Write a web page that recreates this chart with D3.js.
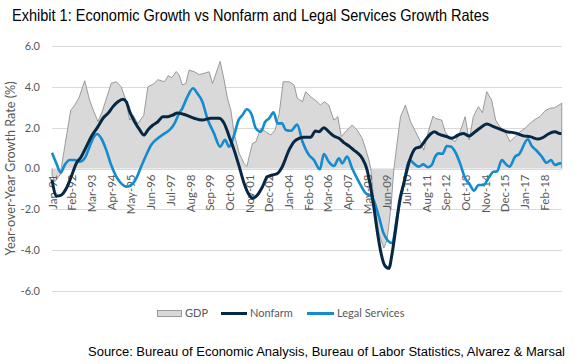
<!DOCTYPE html>
<html>
<head>
<meta charset="utf-8">
<script src="https://cdn.jsdelivr.net/npm/d3@7"></script>
<style>
  body { margin: 0; background: #fff; }
  svg { display: block; }
</style>
</head>
<body>
<div id="chart"></div>
<script>
// chart data (x = decimal year)
var tickLabels = ["Jan-91","Feb-92","Mar-93","Apr-94","May-95","Jun-96","Jul-97","Aug-98","Sep-99","Oct-00",
  "Nov-01","Dec-02","Jan-04","Feb-05","Mar-06","Apr-07","May-08","Jun-09","Jul-10","Aug-11",
  "Sep-12","Oct-13","Nov-14","Dec-15","Jan-17","Feb-18"];
var yTicks = [6, 4, 2, 0, -2, -4, -6];

var gdpYears = [1991.0,1991.15,1991.45,1991.7,1992.03,1992.25,1992.5,1992.8,1993.07,1993.3,1993.53,1993.75,1993.95,
  1994.26,1994.54,1994.81,1995.05,1995.28,1995.46,1995.73,1996.05,1996.28,1996.6,1996.83,1997.2,1997.4,1997.6,
  1997.84,1998.0,1998.18,1998.37,1998.55,1998.83,1999.1,1999.37,1999.65,1999.84,2000.26,2000.48,2000.66,2000.85,
  2001.03,2001.31,2001.58,2001.73,2001.86,2002.04,2002.22,2002.5,2002.77,2003.05,2003.29,2003.51,2003.73,2004.06,
  2004.33,2004.51,2004.79,2004.97,2005.24,2005.6,2005.78,2006.0,2006.24,2006.52,2006.74,2006.93,2007.16,2007.53,
  2007.8,2008.08,2008.26,2008.45,2008.55,2008.72,2009.0,2009.27,2009.45,2009.67,2009.82,2010.0,2010.19,2010.46,
  2010.74,2011.02,2011.29,2011.47,2011.75,2011.98,2012.1,2012.46,2012.65,2012.92,2013.2,2013.47,2013.75,2013.97,
  2014.2,2014.48,2014.7,2014.94,2015.21,2015.43,2015.67,2015.95,2016.22,2016.5,2016.77,2017.05,2017.32,2017.6,
  2017.87,2018.15,2018.42,2018.69,2018.97,2019.07];
var gdpValues = [-0.3,-0.65,-0.3,1.07,2.85,3.1,3.5,4.3,3.35,2.8,2.3,2.75,3.3,
  4.17,4.25,4.0,3.4,2.37,2.62,2.2,2.6,4.0,4.15,4.35,4.25,4.55,4.45,
  4.75,4.58,4.09,4.17,4.82,4.74,4.6,4.66,4.74,4.17,5.25,4.33,3.44,2.86,
  1.72,0.74,0.25,0.1,0.6,1.23,1.3,1.97,1.8,1.64,1.89,2.7,4.25,4.25,
  4.09,3.44,3.27,3.76,3.52,3.27,3.11,3.27,3.11,2.37,2.54,1.56,1.8,2.13,
  1.89,1.48,0.99,0.42,0.0,-1.54,-3.17,-3.9,-3.5,-1.87,-0.07,1.23,2.54,3.1,
  2.3,1.8,1.31,0.9,1.89,2.57,2.46,2.37,1.8,1.48,1.31,1.8,2.54,1.4,
  2.54,3.03,2.73,3.76,3.35,2.37,2.05,1.8,1.31,1.56,1.8,1.97,2.21,2.41,
  2.54,2.83,2.95,2.98,3.14,3.2];

var nonfarmYears = [1991.0,1991.25,1991.51,1991.79,1992.06,1992.34,1992.61,1992.89,1993.16,1993.53,1993.81,1994.08,
  1994.36,1994.63,1994.91,1995.09,1995.28,1995.55,1995.83,1996.06,1996.28,1996.56,1996.83,1997.11,1997.38,1997.66,
  1997.9,1998.37,1998.83,1999.28,1999.74,2000.19,2000.48,2000.76,2001.03,2001.31,2001.58,2001.86,2002.04,2002.31,
  2002.59,2002.86,2003.13,2003.41,2003.68,2004.05,2004.33,2004.6,2004.87,2005.24,2005.51,2005.7,2005.97,2006.24,
  2006.52,2006.8,2007.07,2007.35,2007.62,2007.8,2008.08,2008.35,2008.54,2008.72,2008.9,2009.12,2009.31,2009.55,
  2009.73,2009.92,2010.15,2010.37,2010.7,2011.02,2011.29,2011.57,2011.84,2012.06,2012.28,2012.74,2013.0,2013.38,
  2013.66,2013.97,2014.3,2014.67,2014.94,2015.31,2015.67,2016.04,2016.32,2016.59,2016.96,2017.32,2017.78,2018.06,
  2018.33,2018.69,2018.97,2019.05];
var nonfarmValues = [-0.55,-1.35,-1.3,-0.97,-0.4,0.25,0.58,1.07,1.56,2.05,2.46,2.7,
  3.03,3.27,3.39,3.27,2.78,2.29,1.89,1.64,1.89,2.13,2.29,2.54,2.54,2.62,
  2.72,2.62,2.46,2.37,2.46,2.46,2.21,1.56,0.9,0.09,-0.73,-1.3,-1.46,-1.3,
  -0.89,-0.4,-0.32,-0.24,0.09,0.9,1.31,1.47,1.53,1.53,1.84,1.8,2.0,1.8,
  1.59,1.48,1.27,1.1,0.9,0.78,0.5,-0.07,-0.89,-1.87,-3.01,-4.15,-4.73,-4.89,
  -4.15,-3.01,-1.54,-0.73,0.42,0.99,1.07,1.4,1.69,1.8,1.69,1.56,1.48,1.64,
  1.72,1.59,1.8,2.05,2.18,2.05,1.93,1.8,1.77,1.72,1.6,1.56,1.44,1.53,
  1.69,1.8,1.72,1.72];

var legalYears = [1991.0,1991.24,1991.48,1991.7,1991.97,1992.25,1992.52,1992.8,1993.07,1993.26,1993.49,1993.71,
  1993.99,1994.26,1994.54,1994.81,1995.09,1995.36,1995.64,1995.91,1996.19,1996.46,1996.83,1997.2,1997.48,1997.75,
  1998.0,1998.18,1998.46,1998.77,1999.0,1999.28,1999.55,1999.92,2000.26,2000.53,2000.75,2001.03,2001.27,2001.49,
  2001.73,2002.0,2002.22,2002.5,2002.74,2002.96,2003.2,2003.42,2003.66,2003.88,2004.15,2004.5,2004.8,2005.15,
  2005.42,2005.75,2005.97,2006.24,2006.52,2006.8,2006.98,2007.25,2007.53,2007.9,2008.26,2008.63,2009.0,2009.27,
  2009.73,2010.0,2010.37,2010.7,2010.92,2011.2,2011.45,2011.7,2011.91,2012.1,2012.28,2012.5,2012.74,2012.95,
  2013.2,2013.47,2013.75,2014.02,2014.24,2014.48,2014.76,2015.03,2015.31,2015.5,2015.77,2015.95,2016.19,2016.5,
  2016.72,2017.2,2017.42,2017.69,2017.97,2018.24,2018.48,2018.69,2018.97,2019.05];
var legalValues = [0.77,0.25,-0.2,0.17,0.42,0.42,0.33,0.5,1.07,1.48,1.69,1.48,
  0.9,0.17,-0.4,-0.73,-0.89,-0.81,-0.48,0.09,0.66,1.15,1.48,1.72,1.89,2.21,
  2.7,2.95,3.52,3.93,3.68,3.27,2.46,1.72,1.07,1.4,1.07,1.64,2.37,2.62,
  2.9,2.62,1.97,1.8,2.29,2.46,2.75,2.21,2.21,1.89,1.85,2.15,1.3,0.66,
  0.42,-0.04,0.71,0.33,0.12,0.5,0.25,0.58,0.0,-0.65,-1.2,-1.4,-2.36,-3.2,
  -3.66,-2.36,-0.73,0.42,0.25,0.09,0.2,0.06,0.17,0.58,0.74,0.72,1.1,1.08,
  0.82,0.25,-0.48,-0.81,-1.09,-0.81,-0.81,-0.48,-0.16,-0.15,0.42,0.25,0.09,0.58,
  0.7,1.43,1.1,0.87,0.58,0.28,0.42,0.17,0.25,0.25];

var gdp = gdpYears.map((d, i) => ({x: d, y: gdpValues[i]}));
var nonfarm = nonfarmYears.map((d, i) => ({x: d, y: nonfarmValues[i]}));
var legal = legalYears.map((d, i) => ({x: d, y: legalValues[i]}));

var svgWidth = 574, svgHeight = 364;
var plot = {left: 52, right: 562, top: 46, bottom: 291};
var navy = "#062845", blue = "#128bd0", grey = "#595959";
var axisFont = "Lato, 'Open Sans', sans-serif";

var svg = d3.select("#chart").append("svg")
  .attr("width", svgWidth)
  .attr("height", svgHeight);

// 337 monthly categories, Jan-91 .. Jan-19
var x = d3.scaleLinear()
  .domain([1991, 1991 + 337 / 12])
  .range([plot.left, plot.right]);
var y = d3.scaleLinear()
  .domain([-6, 6])
  .range([plot.bottom, plot.top]);

// gridlines
svg.append("g").selectAll("line")
  .data(yTicks)
  .enter().append("line")
    .attr("x1", plot.left).attr("x2", plot.right)
    .attr("y1", d => Math.round(y(d)) + 0.5).attr("y2", d => Math.round(y(d)) + 0.5)
    .attr("stroke", "#d9d9d9").attr("stroke-width", 1);

// y tick labels
svg.append("g").selectAll("text")
  .data(yTicks)
  .enter().append("text")
    .attr("x", 40)
    .attr("y", d => y(d))
    .attr("dy", "0.35em")
    .attr("text-anchor", "end")
    .attr("font-family", axisFont)
    .attr("font-size", "11px")
    .attr("fill", grey)
    .text(d => d.toFixed(1));

// GDP area
var area = d3.area()
  .x(d => x(d.x))
  .y0(y(0))
  .y1(d => y(d.y));
svg.append("path")
  .datum(gdp)
  .attr("d", area)
  .attr("fill", "#d9d9d9");

var first = gdp[0], last = gdp[gdp.length - 1];
var outline = [{x: first.x, y: 0}].concat(gdp, [{x: last.x, y: 0}]);
svg.append("path")
  .datum(outline)
  .attr("d", d3.line().x(d => x(d.x)).y(d => y(d.y)))
  .attr("fill", "none")
  .attr("stroke", "#7f7f7f")
  .attr("stroke-width", 0.75);

// x category labels (every 13 months), rotated
svg.append("g").selectAll("text")
  .data(tickLabels)
  .enter().append("text")
    .attr("transform", (d, i) => `translate(${x(1991 + (i * 13 + 0.5) / 12)}, ${y(0) + 6}) rotate(-90)`)
    .attr("dy", "0.35em")
    .attr("text-anchor", "end")
    .attr("font-family", axisFont)
    .attr("font-size", "11.5px")
    .attr("fill", grey)
    .text(d => d);

// lines
var line = d3.line()
  .x(d => x(d.x))
  .y(d => y(d.y))
  .curve(d3.curveMonotoneX);

svg.append("path")
  .datum(legal)
  .attr("d", line)
  .attr("fill", "none")
  .attr("stroke", blue)
  .attr("stroke-width", 2.6)
  .attr("stroke-linejoin", "round");

svg.append("path")
  .datum(nonfarm)
  .attr("d", line)
  .attr("fill", "none")
  .attr("stroke", navy)
  .attr("stroke-width", 3)
  .attr("stroke-linejoin", "round");

// y axis title
svg.append("text")
  .attr("transform", `translate(15, ${(plot.top + plot.bottom) / 2}) rotate(-90)`)
  .attr("text-anchor", "middle")
  .attr("font-family", axisFont)
  .attr("font-size", "12.5px")
  .attr("fill", grey)
  .attr("textLength", 174)
  .attr("lengthAdjust", "spacingAndGlyphs")
  .text("Year-over-Year Growth Rate (%)");

// legend
var legend = svg.append("g").attr("font-family", axisFont).attr("font-size", "11px").attr("fill", grey);
legend.append("rect")
  .attr("x", 157.5).attr("y", 310.5).attr("width", 24).attr("height", 6)
  .attr("fill", "#d9d9d9").attr("stroke", "#7f7f7f").attr("stroke-width", 0.75);
legend.append("text").attr("x", 185).attr("y", 313).attr("dy", "0.35em").text("GDP");
legend.append("line")
  .attr("x1", 221).attr("x2", 247).attr("y1", 313.5).attr("y2", 313.5)
  .attr("stroke", navy).attr("stroke-width", 3);
legend.append("text").attr("x", 250).attr("y", 313).attr("dy", "0.35em").text("Nonfarm");
legend.append("line")
  .attr("x1", 307).attr("x2", 334).attr("y1", 313.5).attr("y2", 313.5)
  .attr("stroke", blue).attr("stroke-width", 3);
legend.append("text").attr("x", 337).attr("y", 313).attr("dy", "0.35em").text("Legal Services");

// title and source
svg.append("text")
  .attr("x", 12).attr("y", 21)
  .attr("font-family", "'Liberation Sans', Arial, sans-serif")
  .attr("font-size", "16.5px")
  .attr("fill", "#000")
  .attr("textLength", 477)
  .attr("lengthAdjust", "spacingAndGlyphs")
  .text("Exhibit 1: Economic Growth vs Nonfarm and Legal Services Growth Rates");

svg.append("text")
  .attr("x", 88).attr("y", 356)
  .attr("font-family", "'Liberation Sans', Arial, sans-serif")
  .attr("font-size", "12px")
  .attr("fill", "#000")
  .attr("textLength", 477)
  .attr("lengthAdjust", "spacingAndGlyphs")
  .text("Source: Bureau of Economic Analysis, Bureau of Labor Statistics, Alvarez & Marsal");
</script>
</body>
</html>
